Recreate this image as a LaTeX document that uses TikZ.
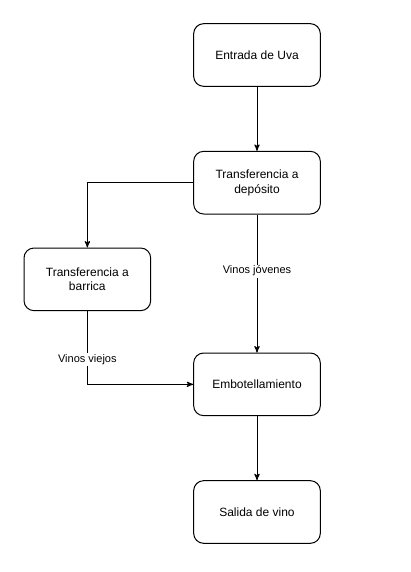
\documentclass[tikz,border=0pt]{standalone}
\usepackage{fontspec}
\setmainfont{Liberation Sans}
\usepackage{tikz}
\usetikzlibrary{arrows, positioning}
\tikzset{
  paso/.style = {draw=black, rectangle, rounded corners=7.5pt, align=center,
    minimum width=95pt, minimum height=47pt, inner sep=2pt,
    line width=0.75pt, font=\fontsize{9}{11}\selectfont},
  etiqueta/.style = {fill=white, inner sep=1pt,
    font=\fontsize{8.25}{10}\selectfont}
}
\begin{document}
\begin{tikzpicture}[x=0.75pt, y=-0.75pt, ->, >=stealth', line width=0.75pt]
\useasboundingbox (0,0) rectangle (411,572);
\node [paso] (entrada) at (257,55) {Entrada de Uva};
\node [paso, below=48pt of entrada] (deposito) {Transferencia a\\depósito};
\node [paso, below left=24.75pt and 31.5pt of deposito] (barrica) {Transferencia a\\barrica};
\node [paso, below=103.5pt of deposito] (embotellado) {Embotellamiento};
\node [paso, below=48pt of embotellado] (salida) {Salida de vino};

\draw (entrada) -- (deposito);
\draw (deposito.west) -| (barrica.north);
\draw (deposito) -- node [etiqueta, pos=0.41] {Vinos jóvenes} (embotellado);
\draw (barrica.south) |- node [etiqueta, pos=0.33] {Vinos viejos} (embotellado.west);
\draw (embotellado) -- (salida);
\end{tikzpicture}
\end{document}
